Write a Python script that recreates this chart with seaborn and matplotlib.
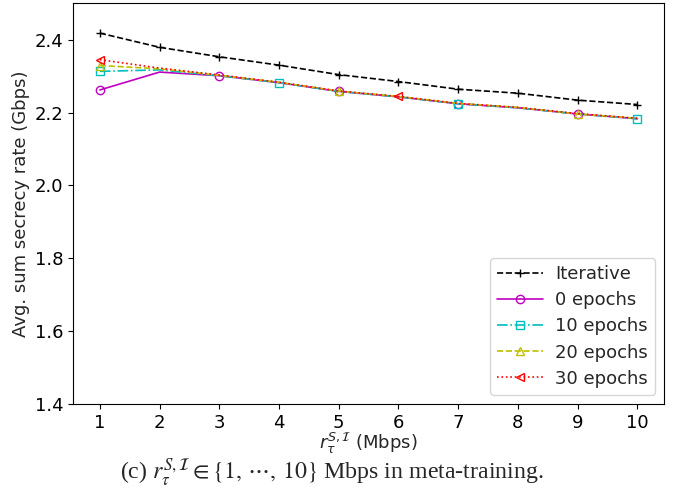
import matplotlib
matplotlib.use("Agg")
import matplotlib.pyplot as plt
import seaborn as sns
import numpy as np

x_vals = [1, 2, 3, 4, 5, 6, 7, 8, 9, 10]
iterative = [2.418, 2.379, 2.353, 2.330, 2.304, 2.285, 2.264, 2.253, 2.234, 2.222]
ep0 = [2.262, 2.311, 2.301, 2.282, 2.258, 2.243, 2.224, 2.213, 2.196, 2.183]
ep10 = [2.313, 2.317, 2.301, 2.282, 2.258, 2.243, 2.224, 2.213, 2.196, 2.183]
ep20 = [2.329, 2.320, 2.302, 2.283, 2.259, 2.244, 2.225, 2.214, 2.196, 2.184]
ep30 = [2.345, 2.322, 2.303, 2.283, 2.259, 2.244, 2.225, 2.214, 2.197, 2.184]
labels = ["Iterative", "0 epochs", "10 epochs", "20 epochs", "30 epochs"]
x_ticks = [1, 2, 3, 4, 5, 6, 7, 8, 9, 10]
y_ticks = [1.4, 1.6, 1.8, 2.0, 2.2, 2.4]

sns.set_style("ticks")
plt.rcParams['font.family'] = ['DejaVu Sans']

fig = plt.figure(figsize=(6.78, 4.96), dpi=100)
ax = fig.add_axes([0.1077, 0.1855, 0.872, 0.808])

styles = [
    dict(color="k", linestyle="--", marker="+", markevery=1),
    dict(color="m", linestyle="-", marker="o", markevery=2),
    dict(color="c", linestyle="-.", marker="s", markevery=3),
    dict(color="y", linestyle="--", marker="^", markevery=4),
    dict(color="r", linestyle=":", marker="<", markevery=5),
]
series = [iterative, ep0, ep10, ep20, ep30]
for ys, lab, st in zip(series, labels, styles):
    sns.lineplot(x=x_vals, y=ys, ax=ax, label=lab, linewidth=1.2,
                 markersize=6, markerfacecolor="none",
                 markeredgecolor=st["color"], markeredgewidth=1.0,
                 color=st["color"], linestyle=st["linestyle"],
                 marker=st["marker"], markevery=st["markevery"])

ax.set_xlim(0.55, 10.45)
ax.set_ylim(1.4, 2.5)
ax.set_xticks(x_ticks)
ax.set_yticks(y_ticks)
ax.set_yticklabels([f"{v:.1f}" for v in y_ticks])
ax.tick_params(labelsize=13, direction="out", length=3.5, width=0.8, colors="k")
for s in ax.spines.values():
    s.set_visible(True)
    s.set_color("k")
    s.set_linewidth(0.8)

ax.set_ylabel("Avg. sum secrecy rate (Gbps)", fontsize=13, labelpad=3)
ax.set_xlabel(r"$r_{\tau}^{S,\mathcal{I}}$ (Mbps)", fontsize=13, labelpad=-0.5)

leg = ax.legend(loc="lower right", fontsize=13, frameon=True,
                handlelength=2.5, handletextpad=0.7, borderpad=0.4,
                labelspacing=0.45)

fig.text(0.49, 0.046,
         r"(c) $r_{\tau}^{S,\mathcal{I}} \in \{1,\,\cdots,\,10\}$ Mbps in meta-training.",
         ha="center", va="center", fontsize=17.2, family="Liberation Serif",
         math_fontfamily="stix")

fig.savefig("out.png", dpi=100)
